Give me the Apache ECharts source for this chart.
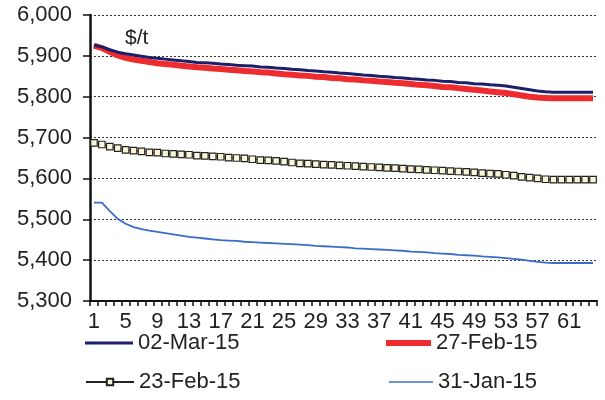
<!DOCTYPE html>
<html>
<head>
<meta charset="utf-8">
<script src="https://cdn.jsdelivr.net/npm/echarts@6/dist/echarts.min.js"></script>
<style>
html,body{margin:0;padding:0;background:#fff;}
#c{width:605px;height:400px;}
</style>
</head>
<body>
<div id="c"></div>
<script>
const categories = [];
for (let i = 1; i <= 64; i++) categories.push(String(i));

const seriesNames = ['02-Mar-15', '27-Feb-15', '23-Feb-15', '31-Jan-15'];

const mar02 = [5926,5922,5915,5909,5905,5902,5899,5896,5894,5892,5890,5888,5886,5884,5883,5882,5880,5879,5877,5876,5875,5873,5872,5870,5869,5867,5866,5864,5863,5861,5860,5858,5857,5855,5853,5852,5850,5849,5847,5846,5844,5843,5841,5840,5838,5837,5835,5834,5832,5831,5829,5828,5826,5823,5820,5817,5814,5812,5811,5811,5811,5811,5811,5811];

const feb27 = [5925,5919,5910,5901,5895,5891,5888,5885,5882,5880,5878,5876,5874,5872,5871,5869,5868,5866,5865,5863,5862,5860,5859,5857,5855,5854,5852,5851,5849,5848,5846,5845,5843,5842,5840,5839,5837,5836,5834,5833,5831,5829,5828,5826,5824,5823,5821,5819,5817,5815,5813,5811,5809,5806,5803,5800,5798,5797,5796,5796,5796,5796,5796,5796];

const feb23 = [5687,5683,5678,5674,5670,5668,5666,5664,5663,5661,5660,5659,5658,5656,5655,5654,5653,5651,5650,5649,5647,5645,5644,5643,5641,5639,5637,5636,5635,5634,5633,5632,5631,5630,5629,5628,5627,5626,5625,5624,5623,5622,5621,5620,5619,5618,5617,5616,5615,5613,5612,5611,5609,5607,5604,5602,5600,5598,5597,5597,5597,5597,5597,5597];

const jan31 = [5541,5541,5520,5501,5489,5481,5476,5472,5469,5466,5463,5460,5457,5455,5453,5451,5449,5448,5447,5445,5444,5443,5442,5441,5440,5439,5438,5437,5435,5434,5433,5432,5431,5429,5428,5427,5426,5425,5424,5423,5421,5420,5419,5417,5416,5415,5413,5412,5411,5409,5408,5407,5405,5403,5401,5398,5396,5394,5393,5393,5393,5393,5393,5393];

const yMin = 5300, yMax = 6000, yStep = 100;
const unitLabel = '$/t';

const FONT = '"Liberation Sans", Arial, sans-serif';
const chart = echarts.init(document.getElementById('c'), null, {renderer: 'canvas'});

function legendAt(name, left, top, w, h, icon) {
  const item = icon ? {name: name, icon: icon} : {name: name};
  return {
    data: [item], left: left, top: top, orient: 'horizontal',
    itemWidth: w, itemHeight: h, itemGap: 0, padding: 0,
    textStyle: {fontFamily: FONT, fontSize: 22, color: '#222'},
    selectedMode: false
  };
}

chart.setOption({
  animation: false,
  backgroundColor: '#fff',
  grid: {left: 90, right: 8, top: 15, bottom: 99, containLabel: false},
  legend: [
    legendAt(seriesNames[0], 85, 332, 48, 3, 'rect'),
    legendAt(seriesNames[1], 386, 332, 45, 6, 'rect'),
    legendAt(seriesNames[2], 85, 371, 48, 8),
    legendAt(seriesNames[3], 389, 371, 44, 1.5, 'rect')
  ],
  graphic: [{
    type: 'text', left: 125, top: 28,
    style: {text: unitLabel, fontFamily: FONT, fontSize: 21, fill: '#222'}
  }],
  xAxis: {
    type: 'category', data: categories, boundaryGap: true,
    axisLine: {lineStyle: {color: '#111', width: 2}},
    axisTick: {show: true, interval: 0, length: 5, lineStyle: {color: '#111', width: 1.5}},
    axisLabel: {interval: 3, margin: 10, fontFamily: FONT, fontSize: 22, color: '#222'},
    splitLine: {show: false}
  },
  yAxis: {
    type: 'value', min: yMin, max: yMax, interval: yStep,
    axisLine: {show: true, lineStyle: {color: '#111', width: 2.5}},
    axisTick: {show: true, length: 7, lineStyle: {color: '#111', width: 1.5}},
    axisLabel: {margin: 18, fontFamily: FONT, fontSize: 22, color: '#222',
      formatter: v => v.toLocaleString('en-US')},
    splitLine: {show: true, lineStyle: {color: '#333', width: 1, type: [2, 2]}}
  },
  series: [
    {name: seriesNames[0], type: 'line', data: mar02, symbol: 'none', z: 4,
      lineStyle: {color: '#1c1f6a', width: 3}, itemStyle: {color: '#1c1f6a'}},
    {name: seriesNames[1], type: 'line', data: feb27, symbol: 'none', z: 3,
      lineStyle: {color: '#ee2b2e', width: 6}, itemStyle: {color: '#ee2b2e'}},
    {name: seriesNames[2], type: 'line', data: feb23, symbol: 'rect', symbolSize: 6.5,
      showSymbol: true, showAllSymbol: true, z: 3,
      lineStyle: {color: '#222', width: 1},
      itemStyle: {color: '#f8f8d8', borderColor: '#222', borderWidth: 1.2}},
    {name: seriesNames[3], type: 'line', data: jan31, symbol: 'none', z: 3,
      lineStyle: {color: '#3a6cc8', width: 1.8}, itemStyle: {color: '#3a6cc8'}}
  ]
});
</script>
</body>
</html>
